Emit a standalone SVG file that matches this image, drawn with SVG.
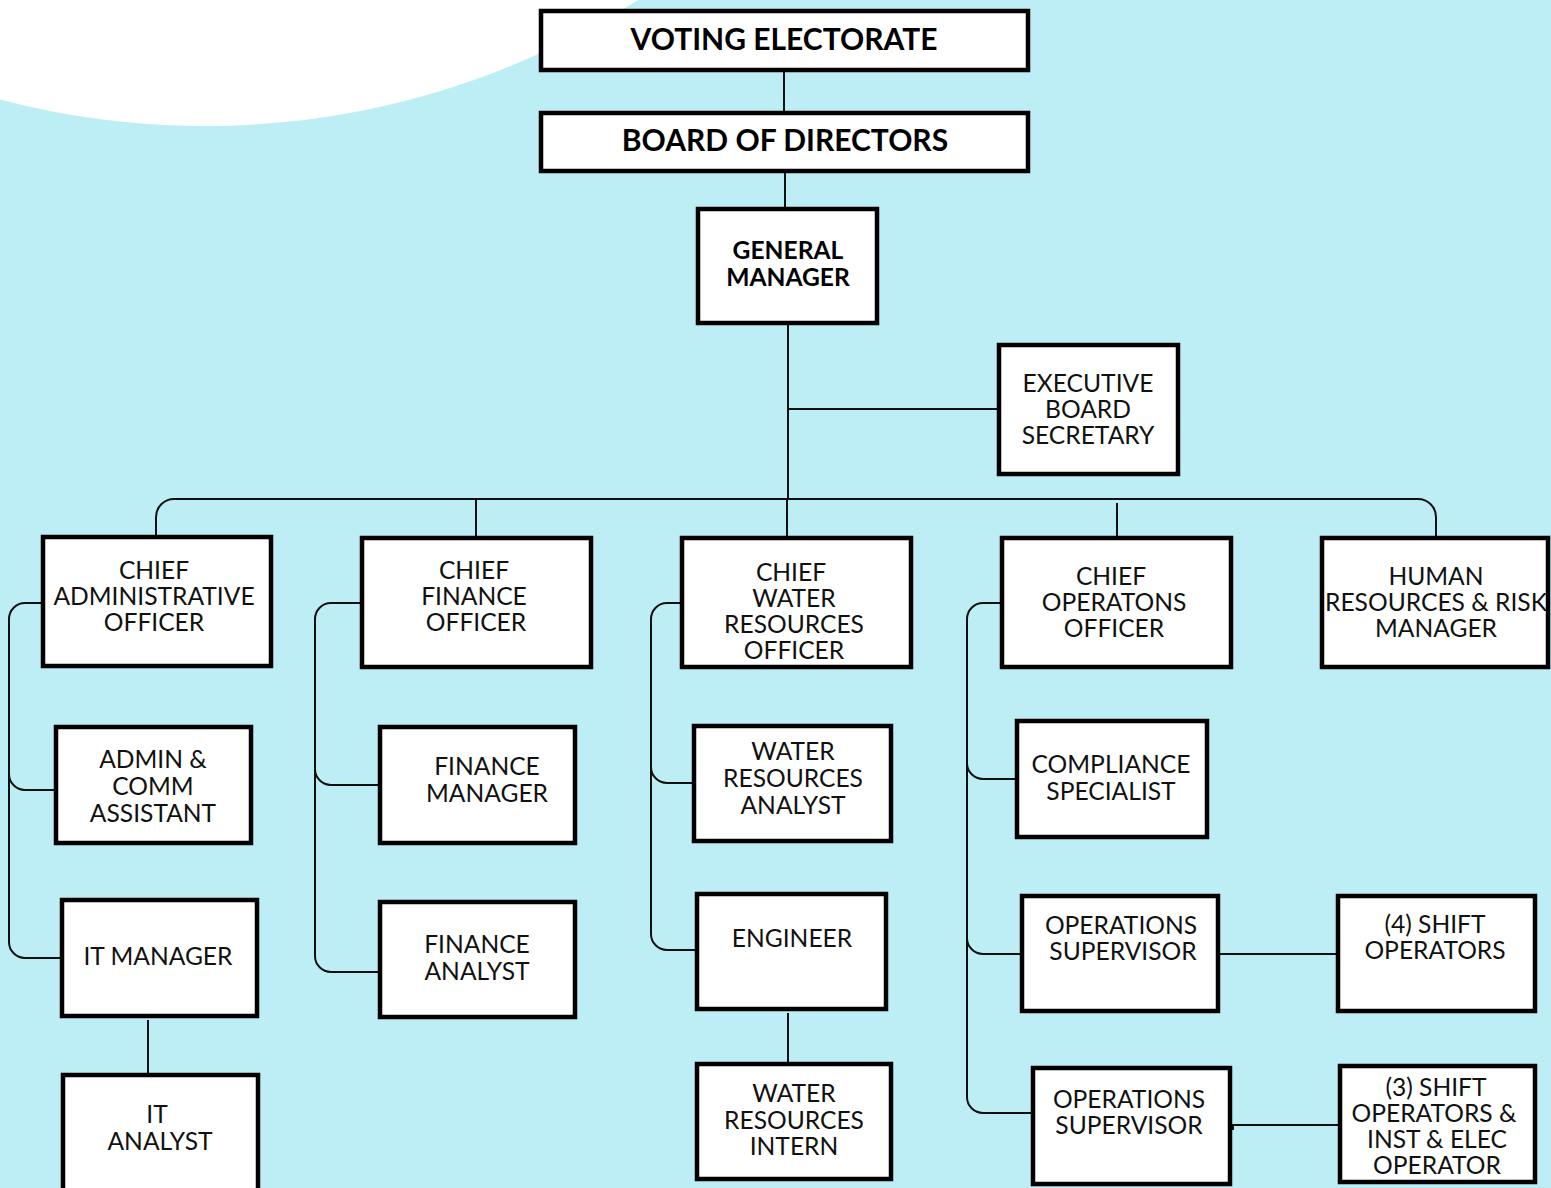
<svg xmlns="http://www.w3.org/2000/svg" width="1551" height="1188" viewBox="0 0 1551 1188">
<style>
.bg{fill:#BEEEF5}
.n rect{fill:#fff;stroke:#000;stroke-width:4.5}
.n text{font-family:Lato,"Liberation Sans",sans-serif;font-size:24.6px;fill:#111;text-anchor:middle}
.b text{font-weight:bold;fill:#000}
.c path{fill:none;stroke:#111;stroke-width:2}
</style>
<rect class="bg" x="0" y="0" width="1551" height="1188"/>
<circle cx="205" cy="-682" r="808" fill="#fff"/>
<g class="c" id="connectors">
<path d="M784,72 V111"/>
<path d="M785,173 V207"/>
<path d="M788,325 V499"/>
<path d="M788,409 H997"/>
<path d="M156,536 V517 A18,18 0 0 1 174,499 H1418 A18,18 0 0 1 1436,517 V537"/>
<path d="M476,499 V537"/>
<path d="M787,499 V537"/>
<path d="M1117,503 V537"/>
<path d="M41,603 H25 A16,16 0 0 0 9,619 V942 A16,16 0 0 0 25,958 H60"/>
<path d="M9,774 A16,16 0 0 0 25,790 H54"/>
<path d="M148,1020 V1073"/>
<path d="M360,603 H331 A16,16 0 0 0 315,619 V956 A16,16 0 0 0 331,972 H378"/>
<path d="M315,769 A16,16 0 0 0 331,785 H378"/>
<path d="M680,603 H667 A16,16 0 0 0 651,619 V934 A16,16 0 0 0 667,950 H695"/>
<path d="M651,767 A16,16 0 0 0 667,783 H692"/>
<path d="M788,1013 V1062"/>
<path d="M1000,603 H983 A16,16 0 0 0 967,619 V1097 A16,16 0 0 0 983,1113 H1031"/>
<path d="M967,763 A16,16 0 0 0 983,779 H1015"/>
<path d="M967,938 A16,16 0 0 0 983,954 H1020"/>
<path d="M1220,954 H1336"/>
<path d="M1233,1130 V1125 H1338"/>
</g>
<g class="n b" id="voting-electorate"><rect x="541" y="11" width="487" height="59"/><text x="784" y="50" style="font-size:30px">VOTING ELECTORATE</text></g>
<g class="n b" id="board-of-directors"><rect x="541" y="113" width="487" height="58"/><text x="785" y="151" style="font-size:30px">BOARD OF DIRECTORS</text></g>
<g class="n b" id="general-manager"><rect x="698" y="209" width="179" height="114"/><text x="788" y="259">GENERAL</text><text x="788" y="286">MANAGER</text></g>
<g class="n" id="executive-board-secretary"><rect x="999" y="345" width="179" height="129"/><text x="1088" y="392">EXECUTIVE</text><text x="1088" y="418">BOARD</text><text x="1088" y="444">SECRETARY</text></g>
<g class="n" id="chief-administrative-officer"><rect x="43" y="537" width="228" height="129"/><text x="154" y="579">CHIEF</text><text x="154" y="605">ADMINISTRATIVE</text><text x="154" y="631">OFFICER</text></g>
<g class="n" id="chief-finance-officer"><rect x="362" y="538" width="229" height="129"/><text x="474" y="579">CHIEF</text><text x="474" y="605">FINANCE</text><text x="476" y="631">OFFICER</text></g>
<g class="n" id="chief-water-resources-officer"><rect x="682" y="538" width="229" height="129"/><text x="791" y="581">CHIEF</text><text x="794" y="607">WATER</text><text x="794" y="633">RESOURCES</text><text x="794" y="659">OFFICER</text></g>
<g class="n" id="chief-operations-officer"><rect x="1002" y="538" width="229" height="129"/><text x="1111" y="585">CHIEF</text><text x="1114" y="611">OPERATONS</text><text x="1114" y="637">OFFICER</text></g>
<g class="n" id="hr-risk-manager"><rect x="1322" y="538" width="226" height="129"/><text x="1436" y="585">HUMAN</text><text x="1436" y="611">RESOURCES &amp; RISK</text><text x="1436" y="637">MANAGER</text></g>
<g class="n" id="admin-comm-assistant"><rect x="56" y="727" width="195" height="116"/><text x="153" y="768">ADMIN &amp;</text><text x="153" y="795">COMM</text><text x="153" y="822">ASSISTANT</text></g>
<g class="n" id="it-manager"><rect x="62" y="900" width="195" height="116"/><text x="158" y="965">IT MANAGER</text></g>
<g class="n" id="it-analyst"><rect x="63" y="1075" width="195" height="130"/><text x="157" y="1123">IT</text><text x="160" y="1150">ANALYST</text></g>
<g class="n" id="finance-manager"><rect x="380" y="727" width="195" height="116"/><text x="487" y="775">FINANCE</text><text x="487" y="802">MANAGER</text></g>
<g class="n" id="finance-analyst"><rect x="380" y="902" width="195" height="115"/><text x="477" y="953">FINANCE</text><text x="477" y="980">ANALYST</text></g>
<g class="n" id="water-resources-analyst"><rect x="694" y="726" width="197" height="115"/><text x="793" y="760">WATER</text><text x="793" y="787">RESOURCES</text><text x="793" y="814">ANALYST</text></g>
<g class="n" id="engineer"><rect x="697" y="894" width="189" height="115"/><text x="792" y="947">ENGINEER</text></g>
<g class="n" id="water-resources-intern"><rect x="697" y="1064" width="194" height="115"/><text x="794" y="1102">WATER</text><text x="794" y="1129">RESOURCES</text><text x="794" y="1155">INTERN</text></g>
<g class="n" id="compliance-specialist"><rect x="1017" y="721" width="190" height="116"/><text x="1111" y="773">COMPLIANCE</text><text x="1111" y="800">SPECIALIST</text></g>
<g class="n" id="operations-supervisor-1"><rect x="1022" y="896" width="196" height="115"/><text x="1121" y="934">OPERATIONS</text><text x="1123" y="960">SUPERVISOR</text></g>
<g class="n" id="shift-operators-4"><rect x="1338" y="896" width="197" height="115"/><text x="1435" y="933">(4) SHIFT</text><text x="1435" y="959">OPERATORS</text></g>
<g class="n" id="operations-supervisor-2"><rect x="1033" y="1068" width="197" height="116"/><text x="1129" y="1108">OPERATIONS</text><text x="1129" y="1134">SUPERVISOR</text></g>
<g class="n" id="shift-operators-3"><rect x="1340" y="1066" width="195" height="116"/><text x="1436" y="1096">(3) SHIFT</text><text x="1434" y="1122">OPERATORS &amp;</text><text x="1437" y="1148">INST &amp; ELEC</text><text x="1437" y="1174">OPERATOR</text></g>
</svg>
